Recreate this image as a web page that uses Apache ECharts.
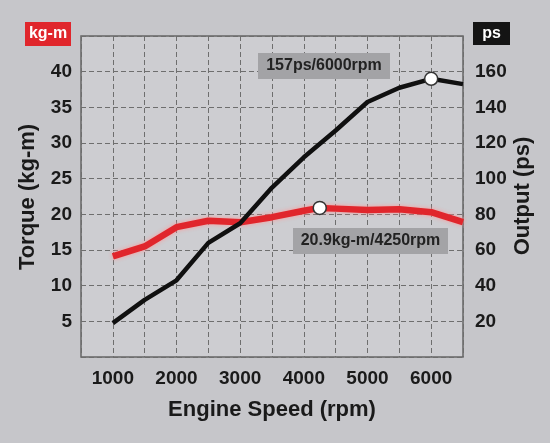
<!DOCTYPE html>
<html><head><meta charset="utf-8">
<script src="https://cdn.jsdelivr.net/npm/echarts@6/dist/echarts.min.js"></script>
<style>html,body{margin:0;padding:0;background:#c6c6ca}#c{width:550px;height:443px}</style>
</head><body><div id="c"></div>
<script>
// Data
const torqueRpm = [1000,1500,2000,2500,3000,3500,4000,4250,4500,5000,5500,6000,6500];
const torqueKgm = [14.1,15.5,18.2,19.1,18.9,19.6,20.5,20.9,20.8,20.6,20.7,20.3,18.9];
const powerRpm  = [1000,1500,2000,2500,3000,3500,4000,4500,5000,5500,6000,6500];
const powerPs   = [19,32,43,64,75,95,112,127,143,151,156,153];
const torquePeak = [4250, 20.9];
const powerPeak  = [6000, 156];
const xTickLabels = [1000,2000,3000,4000,5000,6000];
const leftTickLabels = [5,10,15,20,25,30,35,40];
const rightTickLabels = [20,40,60,80,100,120,140,160];
const texts = {
  xTitle: 'Engine Speed (rpm)', leftTitle: 'Torque (kg-m)', rightTitle: 'Output (ps)',
  leftUnit: 'kg-m', rightUnit: 'ps',
  powerNote: '157ps/6000rpm', torqueNote: '20.9kg-m/4250rpm'
};

const FONT = '"Liberation Sans", Arial, sans-serif';
const chart = echarts.init(document.getElementById('c'), null, {renderer: 'canvas'});
const tickFont = {fontFamily: FONT, fontWeight: 'bold', fontSize: 19, color: '#1a1a1a'};
const dashed = {show: true, lineStyle: {color: '#6e6e6e', width: 1, type: [5, 3]}};

function pairs(xs, ys) { return xs.map((x, i) => [x, ys[i]]); }

const marker = (coord) => ({
  symbol: 'circle', symbolSize: 13, silent: true,
  label: {show: false},
  itemStyle: {color: '#ffffff', borderColor: '#333333', borderWidth: 1.5},
  data: [{coord: coord}]
});

chart.setOption({
  backgroundColor: '#c6c6ca',
  animation: false,
  grid: {left: 81, right: 87, top: 36, bottom: 86, show: true,
         backgroundColor: '#cdcdd1', borderColor: '#666666', borderWidth: 1.5},
  xAxis: {
    type: 'value', min: 500, max: 6500, interval: 500,
    axisLine: {show: false}, axisTick: {show: false},
    axisLabel: Object.assign({margin: 12,
      formatter: v => xTickLabels.indexOf(v) >= 0 ? String(v) : ''}, tickFont),
    splitLine: dashed
  },
  yAxis: [
    {type: 'value', min: 0, max: 45, interval: 5, position: 'left',
     axisLine: {show: false}, axisTick: {show: false},
     axisLabel: Object.assign({margin: 9,
       formatter: v => leftTickLabels.indexOf(v) >= 0 ? String(v) : ''}, tickFont),
     splitLine: dashed},
    {type: 'value', min: 0, max: 180, interval: 20, position: 'right',
     axisLine: {show: false}, axisTick: {show: false},
     axisLabel: Object.assign({margin: 12,
       formatter: v => rightTickLabels.indexOf(v) >= 0 ? String(v) : ''}, tickFont),
     splitLine: {show: false}}
  ],
  series: [
    {type: 'line', name: 'Torque', yAxisIndex: 0, data: pairs(torqueRpm, torqueKgm),
     symbol: 'none', smooth: false, z: 3,
     lineStyle: {color: '#e0262c', width: 6.5, shadowColor: 'rgba(255,150,150,0.95)', shadowBlur: 4},
     markPoint: marker(torquePeak)},
    {type: 'line', name: 'Output', yAxisIndex: 1, data: pairs(powerRpm, powerPs),
     symbol: 'none', smooth: false, z: 4,
     lineStyle: {color: '#101010', width: 4.5},
     markPoint: marker(powerPeak)}
  ],
  graphic: [
    {type: 'rect', left: 25, top: 22, shape: {width: 46, height: 24}, style: {fill: '#e0262c'}},
    {type: 'text', x: 48, y: 34, style: {text: texts.leftUnit, fill: '#ffffff', font: 'bold 16px ' + FONT, align: 'center', verticalAlign: 'middle'}},
    {type: 'rect', left: 473, top: 22, shape: {width: 37, height: 23}, style: {fill: '#141414'}},
    {type: 'text', x: 491.5, y: 33.5, style: {text: texts.rightUnit, fill: '#ffffff', font: 'bold 16px ' + FONT, align: 'center', verticalAlign: 'middle'}},
    {type: 'text', x: 28, y: 197, rotation: Math.PI / 2, style: {text: texts.leftTitle, fill: '#1a1a1a', font: 'bold 22px ' + FONT, align: 'center', verticalAlign: 'middle'}},
    {type: 'text', x: 523, y: 196, rotation: Math.PI / 2, style: {text: texts.rightTitle, fill: '#1a1a1a', font: 'bold 22px ' + FONT, align: 'center', verticalAlign: 'middle'}},
    {type: 'text', x: 272, y: 410, style: {text: texts.xTitle, fill: '#1a1a1a', font: 'bold 22px ' + FONT, align: 'center', verticalAlign: 'middle'}},
    {type: 'rect', left: 258, top: 53, z: 10, shape: {width: 132, height: 26}, style: {fill: '#a3a3a6'}},
    {type: 'text', x: 324, y: 66, z: 11, style: {text: texts.powerNote, fill: '#222222', font: 'bold 16px ' + FONT, align: 'center', verticalAlign: 'middle'}},
    {type: 'rect', left: 293, top: 228, z: 10, shape: {width: 155, height: 26}, style: {fill: '#a3a3a6'}},
    {type: 'text', x: 370.5, y: 241, z: 11, style: {text: texts.torqueNote, fill: '#222222', font: 'bold 16px ' + FONT, align: 'center', verticalAlign: 'middle'}}
  ]
});
</script></body></html>
